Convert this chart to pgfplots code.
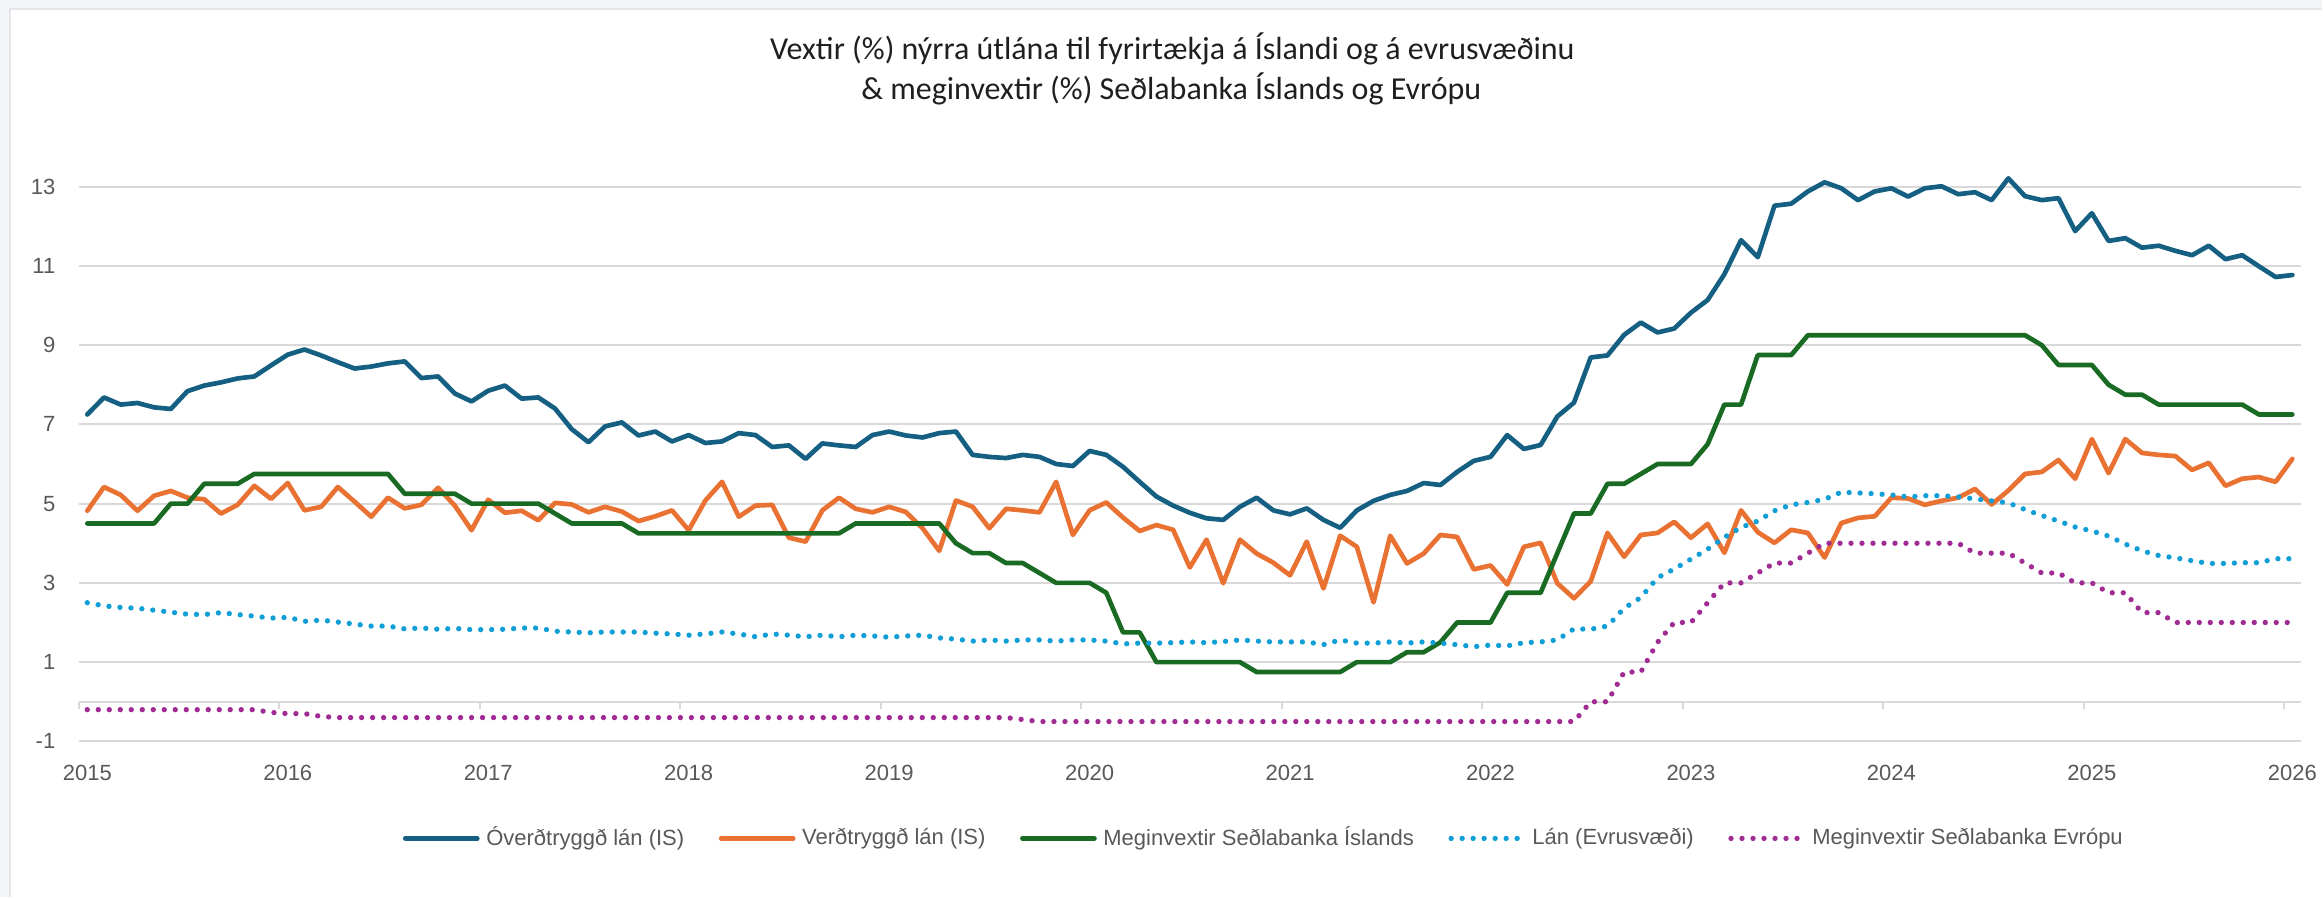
\documentclass[border=0pt]{standalone}
\usepackage{fontspec}
\setmainfont{Liberation Sans}
\newfontfamily\titlefont{Carlito}
\usepackage{pgfplots}
\usepackage{pgfplotstable}
\pgfplotsset{compat=1.18}

\definecolor{cBlue}{HTML}{156082}
\definecolor{cOrange}{HTML}{E97132}
\definecolor{cGreen}{HTML}{196B24}
\definecolor{cLight}{HTML}{0F9ED5}
\definecolor{cPurple}{HTML}{A02B93}
\definecolor{cGrid}{HTML}{D9D9D9}
\definecolor{cText}{HTML}{595959}
\definecolor{cBack}{HTML}{F4F5F7}
\definecolor{cEdge}{HTML}{E4E6E9}

% m = months since Jan 2015
% a = Óverðtryggð lán, b = Verðtryggð lán, c = Meginvextir SÍ,
% d = Lán (evrusvæði), e = Meginvextir SE
\pgfplotstableread{
m a b c d e
0 7.25 4.82 4.50 2.50 -0.20
1 7.68 5.42 4.50 2.42 -0.20
2 7.50 5.22 4.50 2.38 -0.20
3 7.54 4.82 4.50 2.36 -0.20
4 7.43 5.20 4.50 2.31 -0.20
5 7.39 5.32 5.00 2.26 -0.20
6 7.84 5.15 5.00 2.21 -0.20
7 7.98 5.11 5.50 2.20 -0.20
8 8.06 4.75 5.50 2.25 -0.20
9 8.16 4.97 5.50 2.20 -0.20
10 8.21 5.45 5.75 2.16 -0.20
11 8.49 5.12 5.75 2.11 -0.27
12 8.76 5.52 5.75 2.13 -0.30
13 8.89 4.83 5.75 2.03 -0.30
14 8.74 4.92 5.75 2.06 -0.37
15 8.57 5.42 5.75 2.01 -0.40
16 8.41 5.05 5.75 1.96 -0.40
17 8.46 4.67 5.75 1.91 -0.40
18 8.54 5.15 5.75 1.91 -0.40
19 8.59 4.88 5.25 1.84 -0.40
20 8.17 4.97 5.25 1.86 -0.40
21 8.21 5.40 5.25 1.83 -0.40
22 7.78 4.95 5.25 1.85 -0.40
23 7.58 4.33 5.00 1.82 -0.40
24 7.85 5.10 5.00 1.82 -0.40
25 7.98 4.77 5.00 1.83 -0.40
26 7.65 4.82 5.00 1.86 -0.40
27 7.68 4.58 5.00 1.86 -0.40
28 7.40 5.02 4.75 1.78 -0.40
29 6.88 4.98 4.50 1.76 -0.40
30 6.55 4.78 4.50 1.74 -0.40
31 6.95 4.92 4.50 1.76 -0.40
32 7.05 4.80 4.50 1.76 -0.40
33 6.72 4.56 4.25 1.76 -0.40
34 6.82 4.68 4.25 1.73 -0.40
35 6.57 4.83 4.25 1.71 -0.40
36 6.73 4.33 4.25 1.68 -0.40
37 6.53 5.08 4.25 1.71 -0.40
38 6.57 5.55 4.25 1.76 -0.40
39 6.78 4.67 4.25 1.71 -0.40
40 6.73 4.95 4.25 1.64 -0.40
41 6.43 4.97 4.25 1.71 -0.40
42 6.47 4.14 4.25 1.68 -0.40
43 6.13 4.04 4.25 1.64 -0.40
44 6.52 4.83 4.25 1.68 -0.40
45 6.47 5.15 4.25 1.64 -0.40
46 6.43 4.87 4.50 1.68 -0.40
47 6.73 4.78 4.50 1.66 -0.40
48 6.82 4.92 4.50 1.63 -0.40
49 6.72 4.79 4.50 1.66 -0.40
50 6.67 4.38 4.50 1.68 -0.40
51 6.78 3.81 4.50 1.61 -0.40
52 6.82 5.08 4.00 1.58 -0.40
53 6.23 4.92 3.75 1.53 -0.40
54 6.18 4.38 3.75 1.56 -0.40
55 6.15 4.87 3.50 1.53 -0.40
56 6.23 4.83 3.50 1.56 -0.45
57 6.18 4.78 3.25 1.56 -0.50
58 6.00 5.55 3.00 1.53 -0.50
59 5.95 4.21 3.00 1.56 -0.50
60 6.33 4.83 3.00 1.56 -0.50
61 6.23 5.03 2.75 1.53 -0.50
62 5.93 4.65 1.75 1.46 -0.50
63 5.55 4.31 1.75 1.48 -0.50
64 5.18 4.46 1.00 1.48 -0.50
65 4.95 4.34 1.00 1.49 -0.50
66 4.77 3.39 1.00 1.51 -0.50
67 4.63 4.09 1.00 1.49 -0.50
68 4.59 2.99 1.00 1.52 -0.50
69 4.92 4.09 1.00 1.56 -0.50
70 5.15 3.74 0.75 1.53 -0.50
71 4.83 3.51 0.75 1.51 -0.50
72 4.73 3.19 0.75 1.51 -0.50
73 4.88 4.04 0.75 1.51 -0.50
74 4.59 2.86 0.75 1.44 -0.50
75 4.39 4.19 0.75 1.56 -0.50
76 4.83 3.91 1.00 1.48 -0.50
77 5.07 2.51 1.00 1.48 -0.50
78 5.22 4.19 1.00 1.51 -0.50
79 5.32 3.49 1.25 1.48 -0.50
80 5.52 3.74 1.25 1.51 -0.50
81 5.47 4.21 1.50 1.48 -0.50
82 5.80 4.16 2.00 1.44 -0.50
83 6.08 3.34 2.00 1.39 -0.50
84 6.18 3.44 2.00 1.43 -0.50
85 6.73 2.96 2.75 1.41 -0.50
86 6.38 3.91 2.75 1.49 -0.50
87 6.48 4.01 2.75 1.51 -0.50
88 7.20 2.99 3.75 1.56 -0.50
89 7.55 2.61 4.75 1.84 -0.50
90 8.69 3.04 4.75 1.83 0.00
91 8.74 4.26 5.50 1.91 0.00
92 9.26 3.66 5.50 2.36 0.75
93 9.57 4.21 5.75 2.63 0.75
94 9.32 4.26 6.00 3.13 1.50
95 9.42 4.54 6.00 3.35 2.00
96 9.82 4.14 6.00 3.60 2.00
97 10.14 4.49 6.50 3.85 2.50
98 10.79 3.76 7.50 4.15 3.00
99 11.65 4.83 7.50 4.40 3.00
100 11.22 4.28 8.75 4.56 3.25
101 12.52 4.01 8.75 4.82 3.50
102 12.57 4.34 8.75 4.97 3.50
103 12.88 4.26 9.25 5.03 3.75
104 13.11 3.64 9.25 5.11 4.00
105 12.96 4.51 9.25 5.29 4.00
106 12.66 4.64 9.25 5.27 4.00
107 12.88 4.68 9.25 5.25 4.00
108 12.96 5.15 9.25 5.22 4.00
109 12.75 5.13 9.25 5.17 4.00
110 12.96 4.97 9.25 5.20 4.00
111 13.01 5.07 9.25 5.20 4.00
112 12.81 5.15 9.25 5.17 4.00
113 12.86 5.37 9.25 5.12 3.75
114 12.66 4.98 9.25 5.07 3.75
115 13.21 5.33 9.25 5.02 3.75
116 12.76 5.75 9.25 4.85 3.50
117 12.66 5.80 9.00 4.70 3.25
118 12.71 6.10 8.50 4.56 3.25
119 11.88 5.63 8.50 4.41 3.00
120 12.33 6.63 8.50 4.31 3.00
121 11.63 5.77 8.00 4.18 2.75
122 11.70 6.63 7.75 3.98 2.75
123 11.46 6.28 7.75 3.81 2.25
124 11.51 6.23 7.50 3.69 2.25
125 11.38 6.20 7.50 3.63 2.00
126 11.27 5.85 7.50 3.56 2.00
127 11.51 6.03 7.50 3.49 2.00
128 11.17 5.45 7.50 3.49 2.00
129 11.27 5.63 7.50 3.51 2.00
130 10.99 5.67 7.25 3.51 2.00
131 10.72 5.55 7.25 3.61 2.00
132 10.77 6.13 7.25 3.61 2.00
}\rates

\pgfplotsset{
  frame/.style={
    at={(23.7pt,46.86pt)}, anchor=south west,
    scale only axis, width=666.9pt, height=166.5pt,
    xmin=-0.5, xmax=132.5, ymin=-1, ymax=13,
  },
  solid line/.style={line width=1.4pt, line join=round, line cap=round},
  dot line/.style={line width=1.6pt, line cap=round, dash pattern=on 0pt off 3.3pt},
}

\begin{document}
\begin{tikzpicture}
% chart area (1 unit = 1 px of the 2323x898 original)
\begin{scope}[x=0.3pt, y=0.3pt]
  \fill[cBack] (0,0) rectangle (2323,898);
  \fill[white] (10,0) rectangle (2323,889);
  \draw[cEdge, line width=0.8pt] (10,0) -- (10,889) -- (2323,889);
  \node[font=\titlefont\fontsize{9.6}{11}\selectfont, text=black!88] at (1173,849)
    {Vextir (\%) nýrra útlána til fyrirtækja á Íslandi og á evrusvæðinu};
  \node[font=\titlefont\fontsize{9.6}{11}\selectfont, text=black!88] at (1172,809)
    {\& meginvextir (\%) Seðlabanka Íslands og Evrópu};
\end{scope}

% horizontal axis line at 0 with year separators
\begin{axis}[
  frame,
  axis x line*=middle, axis y line=none,
  x axis line style={cGrid, line width=0.6pt},
  xtick={-0.5,11.5,...,131.5}, xticklabels={},
  tick align=outside, major tick length=2.1pt,
  xtick style={cGrid, line width=0.6pt},
]
\end{axis}

\begin{axis}[
  frame,
  clip=false,
  axis line style={draw=none},
  major tick length=0pt,
  ytick={-1,1,...,13},
  ymajorgrids,
  major grid style={cGrid, line width=0.6pt},
  xtick={0,12,...,132},
  xticklabels={2015,2016,2017,2018,2019,2020,2021,2022,2023,2024,2025,2026},
  ticklabel style={font=\fontsize{6.6}{7.5}\selectfont, text=cText},
  yticklabel style={inner sep=0pt, anchor=east, xshift=-6.9pt},
  xticklabel style={inner sep=0pt, anchor=north, yshift=-7pt},
  /pgf/number format/assume math mode=true,
  legend style={
    at={(axis description cs:0.5344,-0.175)}, anchor=center,
    draw=none, fill=none, inner sep=0pt,
    font=\fontsize{6.6}{7.5}\selectfont, text=cText,
    legend columns=5,
    /tikz/every even column/.append style={column sep=8.4pt},
  },
  legend cell align=left,
  legend image code/.code={\draw[#1] (0pt,0pt) -- (21.6pt,0pt);},
]
\addplot[cBlue, solid line] table[x=m, y=a] {\rates};
\addlegendentry{Óverðtryggð lán (IS)}
\addplot[cOrange, solid line] table[x=m, y=b] {\rates};
\addlegendentry{Verðtryggð lán (IS)}
\addplot[cGreen, solid line] table[x=m, y=c] {\rates};
\addlegendentry{Meginvextir Seðlabanka Íslands}
\addplot[cLight, dot line] table[x=m, y=d] {\rates};
\addlegendentry{Lán (Evrusvæði)}
\addplot[cPurple, dot line] table[x=m, y=e] {\rates};
\addlegendentry{Meginvextir Seðlabanka Evrópu}
\end{axis}
\end{tikzpicture}
\end{document}
